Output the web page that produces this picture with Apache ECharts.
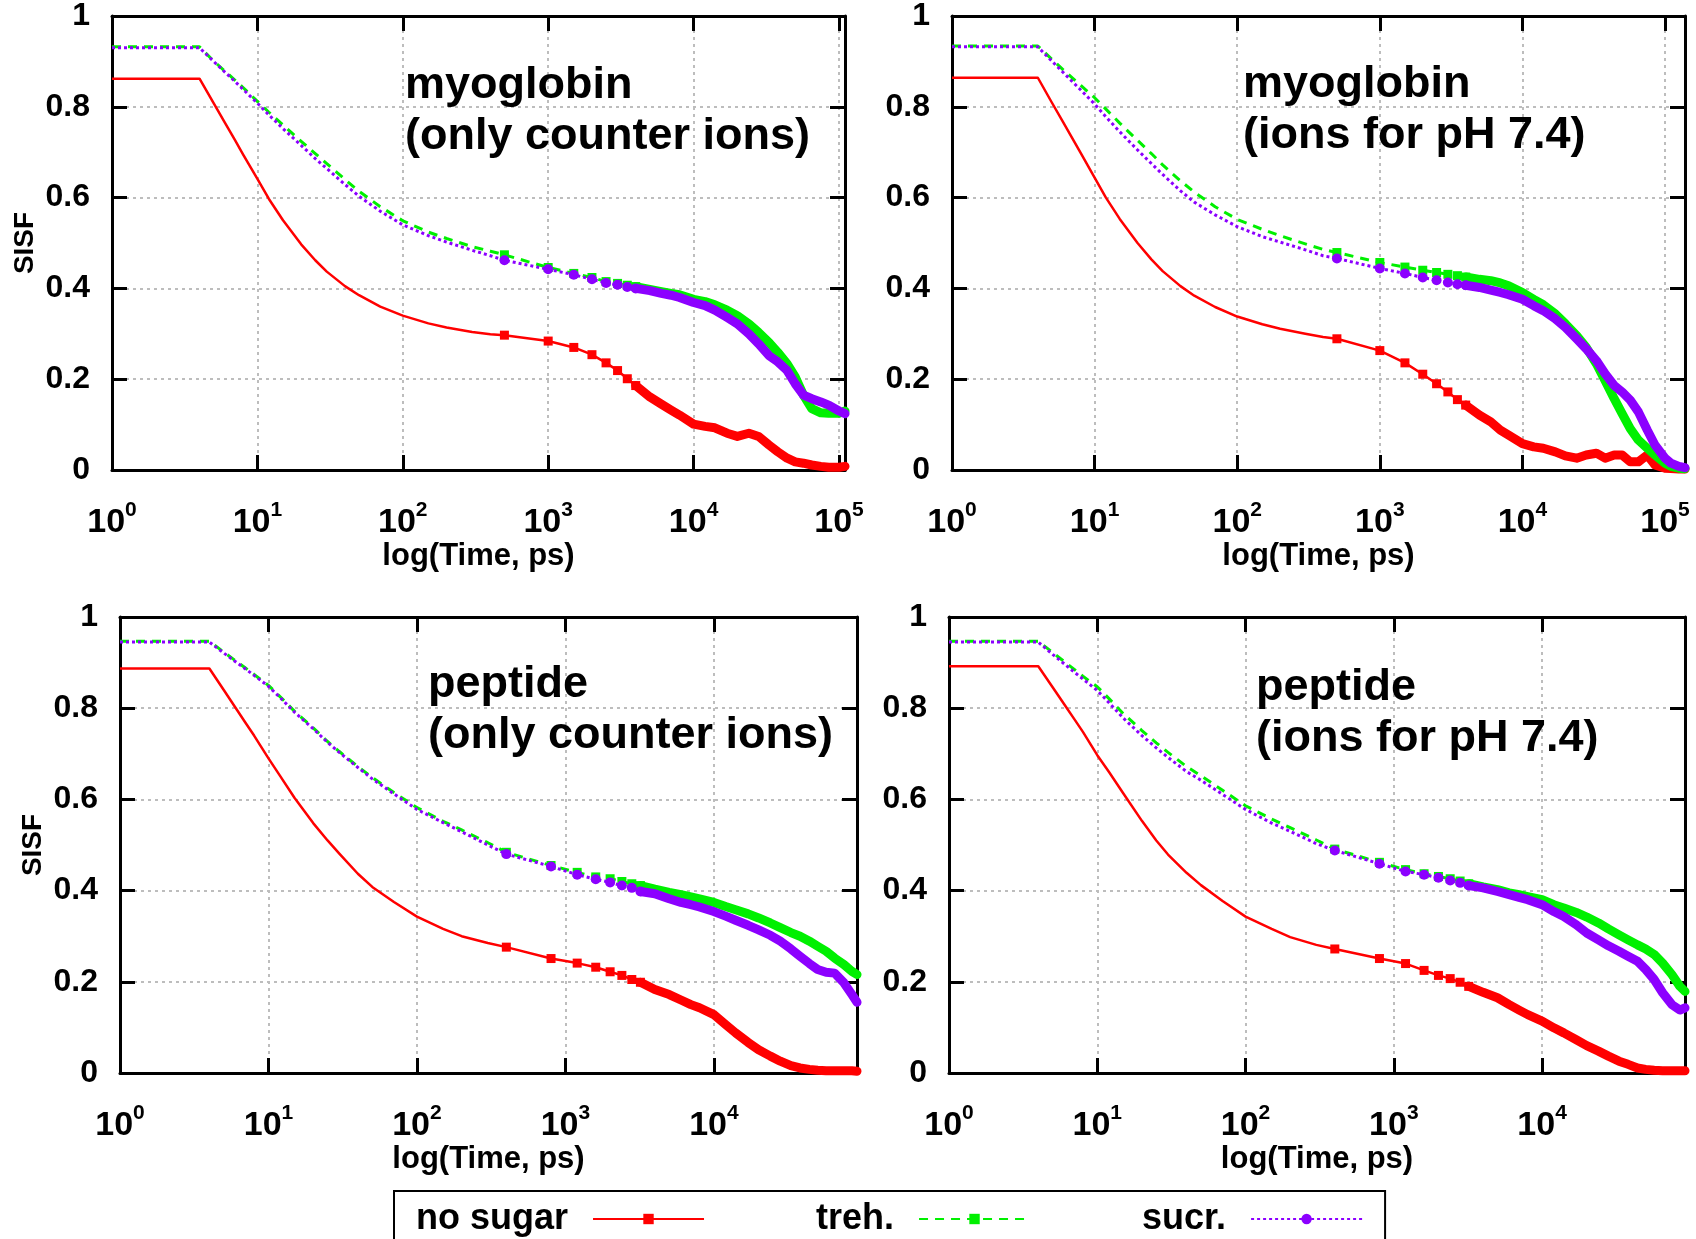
<!DOCTYPE html>
<html>
<head>
<meta charset="utf-8">
<title>SISF</title>
<script src="https://cdn.jsdelivr.net/npm/echarts@6/dist/echarts.min.js"></script>
<style>
  html, body { margin: 0; padding: 0; background: #fff; }
  #chart { width: 1696px; height: 1239px; }
</style>
</head>
<body>
<div id="chart"></div>
<script>
// time points (ps)
const timeMyo = [1, 4, 5, 6, 7, 8, 10, 12, 15, 20, 25, 30, 40, 50, 70, 100, 150, 200, 300, 400,
  500, 1000, 1500, 2000, 2500, 3000, 3500, 4000,
  5000, 6000, 7000, 8000, 10000, 12000, 14000, 17000, 20000, 24000, 28000, 33000, 38000, 44000,
  50000, 57000, 65000, 75000, 85000, 100000, 110000, 125000, 138000];
const timePep = [1, 4, 5, 6, 7, 8, 10, 12, 15, 20, 25, 30, 40, 50, 70, 100, 150, 200, 300,
  400, 800, 1200, 1600, 2000, 2400, 2800, 3200,
  4000, 5000, 6000, 7000, 8000, 10000, 12000, 14000, 17000, 20000, 24000, 28000, 33000, 38000,
  44000, 50000, 57000, 65000, 75000, 85000, 92000];

// myoglobin, only counter ions
const myoCounterNoSugar = [0.862, 0.862, 0.808, 0.764, 0.727, 0.694, 0.641, 0.597, 0.550, 0.497, 0.462, 0.437, 0.405, 0.385, 0.360, 0.340, 0.323, 0.314, 0.304, 0.299,
  0.297, 0.284, 0.270, 0.254, 0.236, 0.219, 0.201, 0.186,
  0.161, 0.145, 0.132, 0.121, 0.101, 0.096, 0.093, 0.081, 0.074, 0.081, 0.074, 0.055, 0.040, 0.026, 0.018, 0.015, 0.011, 0.008, 0.006, 0.006, 0.008];
const myoCounterTreh = [0.932, 0.932, 0.901, 0.878, 0.859, 0.842, 0.812, 0.788, 0.760, 0.724, 0.697, 0.675, 0.640, 0.614, 0.580, 0.549, 0.524, 0.510, 0.492, 0.482,
  0.474, 0.446, 0.433, 0.424, 0.415, 0.411, 0.407, 0.404,
  0.398, 0.393, 0.389, 0.386, 0.376, 0.371, 0.364, 0.352, 0.340, 0.322, 0.303, 0.281, 0.259, 0.234, 0.205, 0.165, 0.135, 0.126, 0.125, 0.125, 0.130];
const myoCounterSucr = [0.930, 0.930, 0.900, 0.876, 0.856, 0.838, 0.808, 0.782, 0.752, 0.715, 0.686, 0.664, 0.629, 0.603, 0.570, 0.540, 0.516, 0.502, 0.484, 0.472,
  0.462, 0.442, 0.430, 0.420, 0.412, 0.408, 0.403, 0.400,
  0.395, 0.389, 0.385, 0.380, 0.369, 0.362, 0.352, 0.336, 0.322, 0.300, 0.278, 0.252, 0.238, 0.219, 0.190, 0.165, 0.157, 0.150, 0.143, 0.130, 0.124];

// myoglobin, ions for pH 7.4
const myoPhNoSugar = [0.864, 0.864, 0.810, 0.767, 0.730, 0.698, 0.644, 0.600, 0.553, 0.500, 0.464, 0.438, 0.405, 0.384, 0.359, 0.338, 0.321, 0.311, 0.300, 0.293,
  0.289, 0.263, 0.236, 0.211, 0.190, 0.172, 0.155, 0.143,
  0.121, 0.106, 0.088, 0.077, 0.058, 0.051, 0.048, 0.040, 0.031, 0.026, 0.033, 0.037, 0.026, 0.033, 0.033, 0.018, 0.018, 0.033, 0.011, 0.004, 0.003, 0.002, 0.002];
const myoPhTreh = [0.934, 0.934, 0.905, 0.882, 0.863, 0.847, 0.820, 0.795, 0.764, 0.726, 0.697, 0.672, 0.637, 0.612, 0.580, 0.552, 0.530, 0.516, 0.498, 0.486,
  0.479, 0.457, 0.447, 0.440, 0.435, 0.431, 0.428, 0.425,
  0.420, 0.417, 0.412, 0.406, 0.391, 0.376, 0.364, 0.344, 0.322, 0.296, 0.270, 0.234, 0.197, 0.157, 0.124, 0.091, 0.066, 0.048, 0.033, 0.015, 0.008, 0.004, 0.003];
const myoPhSucr = [0.932, 0.932, 0.901, 0.876, 0.855, 0.837, 0.806, 0.778, 0.745, 0.705, 0.675, 0.651, 0.615, 0.590, 0.562, 0.536, 0.514, 0.502, 0.485, 0.472,
  0.466, 0.444, 0.433, 0.424, 0.418, 0.413, 0.409, 0.407,
  0.402, 0.396, 0.391, 0.386, 0.376, 0.362, 0.351, 0.333, 0.314, 0.289, 0.267, 0.241, 0.212, 0.186, 0.172, 0.154, 0.128, 0.088, 0.055, 0.026, 0.015, 0.008, 0.005];

// peptide, only counter ions
const pepCounterNoSugar = [0.887, 0.887, 0.840, 0.801, 0.768, 0.740, 0.690, 0.651, 0.603, 0.548, 0.510, 0.481, 0.437, 0.408, 0.375, 0.343, 0.316, 0.300, 0.285,
  0.276, 0.251, 0.241, 0.232, 0.222, 0.214, 0.205, 0.199,
  0.183, 0.172, 0.160, 0.150, 0.143, 0.128, 0.106, 0.088, 0.067, 0.051, 0.037, 0.026, 0.016, 0.011, 0.008, 0.006, 0.005, 0.005, 0.005, 0.005, 0.004];
const pepCounterTreh = [0.947, 0.947, 0.923, 0.904, 0.888, 0.874, 0.850, 0.825, 0.793, 0.757, 0.727, 0.705, 0.672, 0.648, 0.615, 0.582, 0.552, 0.533, 0.505,
  0.484, 0.455, 0.440, 0.430, 0.426, 0.420, 0.415, 0.411,
  0.403, 0.396, 0.391, 0.386, 0.382, 0.374, 0.365, 0.358, 0.349, 0.340, 0.329, 0.319, 0.308, 0.300, 0.289, 0.278, 0.267, 0.252, 0.238, 0.223, 0.216];
const pepCounterSucr = [0.945, 0.945, 0.921, 0.902, 0.886, 0.872, 0.848, 0.823, 0.791, 0.755, 0.725, 0.703, 0.670, 0.645, 0.612, 0.578, 0.549, 0.529, 0.500,
  0.480, 0.453, 0.435, 0.425, 0.418, 0.411, 0.406, 0.398,
  0.393, 0.382, 0.374, 0.369, 0.364, 0.354, 0.344, 0.335, 0.324, 0.314, 0.302, 0.289, 0.272, 0.256, 0.240, 0.227, 0.221, 0.219, 0.198, 0.172, 0.155];

// peptide, ions for pH 7.4
const pepPhNoSugar = [0.892, 0.892, 0.846, 0.808, 0.776, 0.748, 0.697, 0.660, 0.613, 0.553, 0.510, 0.479, 0.439, 0.412, 0.377, 0.343, 0.316, 0.298, 0.281,
  0.272, 0.251, 0.240, 0.225, 0.214, 0.207, 0.199, 0.190,
  0.177, 0.165, 0.150, 0.138, 0.128, 0.114, 0.099, 0.088, 0.073, 0.060, 0.048, 0.037, 0.026, 0.019, 0.011, 0.008, 0.006, 0.005, 0.005, 0.005, 0.005];
const pepPhTreh = [0.947, 0.947, 0.922, 0.902, 0.885, 0.870, 0.847, 0.821, 0.788, 0.751, 0.724, 0.703, 0.672, 0.652, 0.620, 0.586, 0.557, 0.538, 0.511,
  0.491, 0.462, 0.446, 0.437, 0.431, 0.426, 0.421, 0.415,
  0.408, 0.402, 0.395, 0.391, 0.387, 0.380, 0.369, 0.362, 0.352, 0.342, 0.329, 0.316, 0.303, 0.292, 0.281, 0.272, 0.260, 0.241, 0.216, 0.190, 0.179];
const pepPhSucr = [0.945, 0.945, 0.918, 0.897, 0.879, 0.864, 0.839, 0.812, 0.778, 0.740, 0.713, 0.692, 0.661, 0.642, 0.611, 0.578, 0.548, 0.530, 0.503,
  0.488, 0.459, 0.442, 0.435, 0.428, 0.422, 0.417, 0.411,
  0.406, 0.398, 0.391, 0.385, 0.380, 0.369, 0.354, 0.343, 0.325, 0.307, 0.292, 0.279, 0.267, 0.256, 0.245, 0.227, 0.205, 0.176, 0.150, 0.138, 0.143];

const seriesNames = ['no sugar', 'treh.', 'sucr.'];

const FONT = '"Liberation Sans", Arial, Helvetica, sans-serif';
const looks = [
  { color: '#ff0000', symbol: 'rect', size: 9, width: 2.5, type: 'solid' },
  { color: '#00f000', symbol: 'rect', size: 9, width: 3, type: [9, 7] },
  { color: '#8c00ff', symbol: 'circle', size: 10, width: 3, type: [3, 3] }
];

const panels = [
  { title: 'myoglobin\n(only counter ions)', time: timeMyo, vals: [myoCounterNoSugar, myoCounterTreh, myoCounterSucr],
    max: 110000, markFrom: 500, bandFrom: 4000, box: [112, 14, 733, 456], titleAt: [405, 60], sisf: true },
  { title: 'myoglobin\n(ions for pH 7.4)', time: timeMyo, vals: [myoPhNoSugar, myoPhTreh, myoPhSucr],
    max: 138000, markFrom: 500, bandFrom: 4000, box: [952, 14, 733, 456], titleAt: [1243, 59], sisf: false },
  { title: 'peptide\n(only counter ions)', time: timePep, vals: [pepCounterNoSugar, pepCounterTreh, pepCounterSucr],
    max: 92000, markFrom: 400, bandFrom: 3200, box: [120, 617, 737, 456], titleAt: [428, 659], sisf: true },
  { title: 'peptide\n(ions for pH 7.4)', time: timePep, vals: [pepPhNoSugar, pepPhTreh, pepPhSucr],
    max: 92000, markFrom: 400, bandFrom: 3200, box: [949, 617, 736, 456], titleAt: [1256, 662], sisf: false }
];

const gridLine = { show: true, lineStyle: { color: '#bdbdbd', width: 2, type: [3, 4] } };
const frameLine = { show: true, onZero: false, lineStyle: { color: '#000', width: 3 } };
const frameTick = { show: true, inside: true, length: 15, lineStyle: { color: '#000', width: 3 } };

function decadeLabel(v) {
  const e = Math.log10(v);
  const r = Math.round(e);
  return Math.abs(e - r) < 1e-6 ? '{b|10}{s|' + r + '}' : '';
}
function sisfLabel(v) {
  if (Math.abs(v) < 1e-9) return '0';
  if (Math.abs(v - 1) < 1e-9) return '1';
  return v.toFixed(1);
}

const grid = [], xAxis = [], yAxis = [], series = [], title = [];

panels.forEach((p, i) => {
  grid.push({ left: p.box[0], top: p.box[1], width: p.box[2], height: p.box[3], containLabel: false });
  title.push({
    text: p.title, left: p.titleAt[0], top: p.titleAt[1], padding: 0,
    textStyle: { fontFamily: FONT, fontSize: 45, fontWeight: 'bold', lineHeight: 51, color: '#000' }
  });
  xAxis.push({
    type: 'log', logBase: 10, gridIndex: i, min: 1, max: p.max, position: 'bottom',
    axisLine: frameLine, axisTick: frameTick, splitLine: gridLine,
    minorTick: { show: false },
    axisLabel: {
      margin: 30, formatter: decadeLabel, color: '#000',
      rich: {
        b: { fontFamily: FONT, fontSize: 34, fontWeight: 'bold', color: '#000', verticalAlign: 'bottom', lineHeight: 40 },
        s: { fontFamily: FONT, fontSize: 21, fontWeight: 'bold', color: '#000', verticalAlign: 'top', lineHeight: 40 }
      }
    },
    name: 'log(Time, ps)', nameLocation: 'middle', nameGap: 71,
    nameTextStyle: { fontFamily: FONT, fontSize: 31, fontWeight: 'bold', color: '#000' }
  });
  xAxis.push({
    type: 'log', logBase: 10, gridIndex: i, min: 1, max: p.max, position: 'top',
    axisLine: frameLine, axisTick: frameTick, splitLine: { show: false }, axisLabel: { show: false }
  });
  yAxis.push({
    type: 'value', gridIndex: i, min: 0, max: 1, interval: 0.2, position: 'left',
    axisLine: frameLine, axisTick: frameTick, splitLine: gridLine,
    axisLabel: { margin: 22, formatter: sisfLabel, fontFamily: FONT, fontSize: 32, fontWeight: 'bold', color: '#000' },
    name: p.sisf ? 'SISF' : '', nameLocation: 'middle', nameGap: 73,
    nameTextStyle: { fontFamily: FONT, fontSize: 28, fontWeight: 'bold', color: '#000' }
  });
  yAxis.push({
    type: 'value', gridIndex: i, min: 0, max: 1, interval: 0.2, position: 'right',
    axisLine: frameLine, axisTick: frameTick, splitLine: { show: false }, axisLabel: { show: false }
  });

  p.vals.forEach((vals, k) => {
    const look = looks[k];
    const main = [], band = [];
    vals.forEach((v, j) => {
      const t = p.time[j];
      if (t <= p.bandFrom) main.push(t < p.markFrom ? { value: [t, v], symbol: 'none' } : [t, v]);
      if (t >= p.bandFrom) band.push([t, v]);
    });
    series.push({
      type: 'line', name: seriesNames[k], xAxisIndex: 2 * i, yAxisIndex: 2 * i,
      data: main, symbol: look.symbol, symbolSize: look.size,
      itemStyle: { color: look.color },
      lineStyle: { color: look.color, width: look.width, type: look.type, join: 'round' },
      z: 3 + k
    });
    series.push({
      type: 'line', name: seriesNames[k], xAxisIndex: 2 * i, yAxisIndex: 2 * i,
      data: band, symbol: 'none', clip: false,
      itemStyle: { color: look.color },
      lineStyle: { color: look.color, width: 9, type: 'solid', join: 'round', cap: 'round' },
      z: 3 + k
    });
  });
});

const chart = echarts.init(document.getElementById('chart'));
chart.setOption({
  animation: false,
  backgroundColor: '#fff',
  title: title,
  grid: grid,
  xAxis: xAxis,
  yAxis: yAxis,
  series: series,
  legend: {
    data: seriesNames, left: 394, top: 1191, orient: 'horizontal', align: 'right',
    itemWidth: 111, itemHeight: 13, itemGap: 111,
    padding: [9, 22, 2, 22], borderColor: '#000', borderWidth: 2,
    textStyle: { fontFamily: FONT, fontSize: 36, fontWeight: 'bold', color: '#000', padding: [0, 20, 0, 0], lineHeight: 38 }
  }
});
</script>
</body>
</html>
